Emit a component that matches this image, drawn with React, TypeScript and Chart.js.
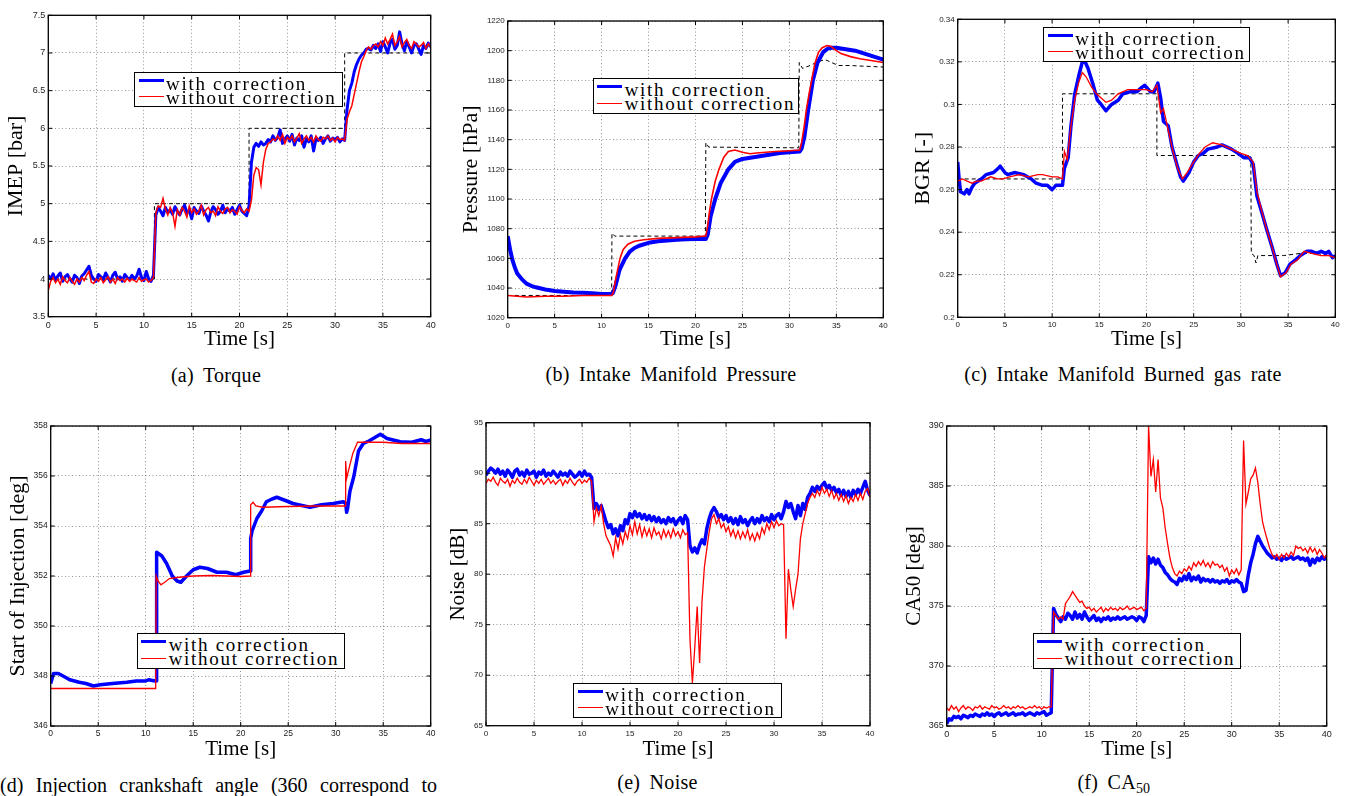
import React, { useEffect, useRef } from "react";
import { Chart, registerables } from "chart.js";

Chart.register(...registerables);

const BLUE = "#0000ff";
const RED = "#ff0000";
const SERIF = '"Liberation Serif", "Times New Roman", Times, serif';
const SANS = '"Liberation Sans", Arial, Helvetica, sans-serif';

// ---------- tick labels ----------
const timeTicks = [0, 5, 10, 15, 20, 25, 30, 35, 40];
const imepTicks = [3.5, 4, 4.5, 5, 5.5, 6, 6.5, 7, 7.5];
const pressureTicks = [1020, 1040, 1060, 1080, 1100, 1120, 1140, 1160, 1180, 1200, 1220];
const bgrTicks = [0.2, 0.22, 0.24, 0.26, 0.28, 0.3, 0.32, 0.34];
const soiTicks = [346, 348, 350, 352, 354, 356, 358];
const noiseTicks = [65, 70, 75, 80, 85, 90, 95];
const ca50Ticks = [365, 370, 375, 380, 385, 390];

// ---------- sampled series (every 0.25 s from 0 to 40 s) ----------
const SAMPLE_STEP = 0.25;

const imepWith = [
  4.05, 4.0, 4.07, 3.98, 4.04, 4.08, 3.97, 4.03, 4.06, 4.0, 3.96, 4.05, 4.02, 3.94, 4.04, 4.07, 4.12, 4.17, 4.05, 4.0,
  3.97, 4.06, 4.03, 3.99, 4.08, 4.02, 3.96, 4.05, 4.09, 4.0, 4.03, 3.97, 4.06, 4.02, 3.99, 4.05, 4.0, 4.04, 4.13, 4.02,
  3.98, 4.1, 4.0, 3.97, 4.05,
  4.85, 4.95, 4.9, 4.84, 4.95, 4.88, 4.92, 4.86, 4.96, 4.9, 4.85, 4.93, 4.98, 4.88, 4.91, 4.8, 4.95, 4.9, 4.87, 4.97,
  4.9, 4.85, 4.77, 4.89, 4.96, 4.92, 4.86, 4.9, 4.98, 4.88, 4.93, 4.9, 4.95, 4.86, 4.92, 4.98, 4.9, 4.87, 4.84, 4.97,
  5.55, 5.75, 5.8, 5.76, 5.82, 5.78, 5.8, 5.85, 5.82, 5.9, 5.84, 5.88, 5.98, 5.8, 5.86, 5.9, 5.83, 5.92, 5.78, 5.87,
  5.84, 5.9, 5.75, 5.86, 5.82, 5.9, 5.7, 5.86, 5.84, 5.88, 5.8, 5.86, 5.9, 5.83, 5.87, 5.85, 5.88, 5.82, 5.86, 5.84,
  6.25, 6.5, 6.6, 6.75, 6.85, 6.92, 6.97, 7.0, 7.05, 7.06, 7.04, 7.1,
  7.06, 7.12, 7.02, 7.15, 7.08, 7.0, 7.13, 7.18, 7.05, 7.1, 7.28, 7.12, 7.03, 7.15, 7.08, 7.0, 7.1, 7.12, 7.05, 6.98,
  7.1, 7.06, 7.13, 7.08,
];
const imepWithout = [
  3.85, 3.97, 4.02, 3.95, 4.0, 3.93, 4.03, 3.98, 3.95, 4.02, 3.97, 3.93, 4.0, 3.96, 4.02, 3.98, 4.05, 4.1, 3.96, 3.94,
  4.0, 3.97, 4.02, 3.95, 3.99, 4.03, 3.96, 4.0, 3.94, 4.02, 3.98, 4.0, 3.96, 4.01, 3.97, 4.0, 3.98, 3.96, 4.02, 3.97,
  3.99, 4.0, 3.96, 3.98, 4.02,
  4.88, 4.97, 4.95, 5.07, 4.93, 4.85, 4.95, 4.88, 4.7, 4.92, 4.85, 4.95, 4.9, 4.82, 4.97, 4.88, 4.93, 4.86, 4.9, 4.98,
  4.85, 4.92, 4.95, 4.88, 4.9, 4.84, 4.96, 4.9, 4.87, 4.93, 4.95, 4.88, 4.92, 4.9, 4.86, 4.96, 4.91, 4.88, 4.93, 4.9,
  5.05, 5.38, 5.48, 5.45, 5.25, 5.55, 5.72, 5.8, 5.82, 5.86, 5.84, 5.9,
  5.84, 5.92, 5.8, 5.88, 5.85, 5.9, 5.82, 5.87, 5.93, 5.8, 5.86, 5.9, 5.84, 5.88, 5.82, 5.9, 5.85, 5.83, 5.88, 5.86,
  5.9, 5.84, 5.87, 5.82, 5.88, 5.85, 5.86, 5.84,
  6.12, 6.22, 6.3, 6.45, 6.6, 6.75, 6.88, 6.95, 7.03, 7.08, 7.05, 7.1,
  7.12, 7.08, 7.15, 7.1, 7.2, 7.12, 7.18, 7.25, 7.1, 7.15, 7.22, 7.08, 7.14, 7.18, 7.1, 7.06, 7.15, 7.12, 7.08, 7.1,
  7.14, 7.06, 7.12, 7.08,
];

const noiseWith = [
  89.8, 90.2, 90.5, 90.3, 90.0, 90.4, 89.9, 90.2, 89.7, 90.3, 90.0, 89.6, 90.2, 90.4, 89.8, 90.1, 89.7, 90.3, 89.9, 90.0,
  90.2, 89.6, 90.1, 89.9, 90.3, 89.7, 90.0, 89.8, 90.2, 89.9, 89.6, 90.1, 89.8, 90.0, 89.7, 90.2, 89.9, 89.6, 89.8, 90.1,
  89.7, 90.2, 89.8, 89.9, 89.6,
  86.5, 87.0, 86.4, 86.8, 86.0, 85.2, 84.6, 84.9, 84.0, 84.5, 83.8, 84.8, 84.3, 85.4, 85.0, 86.0, 85.6, 86.2, 85.7, 86.0,
  85.5, 85.9, 85.4, 85.8, 85.3, 85.7, 85.2, 85.6, 85.1, 85.4, 85.0, 85.6, 85.2, 85.5, 84.9, 85.3, 85.6, 85.0, 85.8, 85.4,
  82.8, 82.2, 82.6, 82.1, 82.9, 83.4, 83.0, 84.5, 85.5, 86.2, 86.6, 86.2, 85.6, 85.9, 85.4, 85.8, 85.2, 85.6, 85.0, 85.5,
  84.9, 85.7, 85.1, 85.4, 84.8, 85.3, 85.6, 85.0, 85.5, 85.1, 85.8, 85.3, 85.6, 85.2, 85.9, 85.4, 85.8, 86.0, 85.5, 86.2,
  87.2, 86.6, 87.0, 86.2, 85.5, 86.8, 85.8, 87.0, 86.4, 87.6, 88.0, 88.6, 88.2, 88.7, 88.4, 88.8, 89.1, 88.5, 88.8, 88.3,
  88.6, 88.1, 88.4, 87.8, 88.3, 87.7, 88.2, 87.6, 88.3, 87.9, 88.4, 88.0, 88.6, 89.2, 88.3, 87.8,
];
const noiseWithout = [
  89.0, 89.4, 89.2, 89.6, 89.1, 88.8, 89.5, 89.2, 89.0, 89.4, 88.7, 89.3, 89.0, 89.5, 89.1, 88.9, 89.4, 89.0, 89.6, 89.2,
  88.8, 89.3, 89.0, 89.4, 88.9, 89.2, 89.5, 89.0, 89.3, 88.9, 89.2, 89.4, 88.8, 89.3, 89.0, 89.5, 89.1, 88.8, 89.2, 89.4,
  89.0, 89.3, 89.1, 89.5, 89.2,
  85.2, 86.6, 85.8, 86.8, 85.0, 83.8, 83.3, 82.8, 81.8, 83.6, 82.5, 83.9, 83.0, 84.2, 83.5, 84.8, 83.9, 85.2, 84.0, 84.9,
  83.7, 84.6, 83.8, 84.5, 83.6, 84.6, 83.9, 84.2, 83.5, 84.4, 83.7, 84.3, 83.6, 84.5, 83.8, 84.2, 83.6, 84.4, 83.9, 84.1,
  73.5, 69.2, 72.8, 76.8, 71.2, 77.3, 80.7, 82.5, 84.2, 85.5, 85.9, 85.0, 85.5, 84.6, 85.0, 84.2, 84.7, 83.8, 84.4, 83.6,
  84.3, 83.5, 84.2, 83.6, 84.4, 83.4, 84.0, 83.3, 84.1, 83.5, 84.6, 84.0, 85.0, 84.4, 85.2, 84.6, 85.3, 84.8, 85.0, 84.9,
  73.6, 80.5, 78.5, 76.8, 78.5, 80.0, 83.5, 85.0, 86.0, 87.0, 87.6, 88.0, 87.6, 88.3, 87.8, 88.6, 88.0, 88.4, 87.7, 88.3,
  87.5, 88.0, 87.3, 87.9, 87.2, 87.8, 87.0, 87.6, 87.2, 87.9, 87.3, 88.0, 87.4, 88.2, 88.5, 87.6,
];

const ca50With = [
  365.2, 365.6, 365.5, 365.8, 365.7, 365.8, 365.6, 365.9, 365.8, 365.7, 365.9, 365.8, 366.0, 365.9, 365.8, 366.0, 365.9, 366.1, 365.9, 366.0,
  365.8, 366.0, 366.1, 365.9, 366.0, 366.1, 365.9, 366.0, 366.1, 365.9, 366.0, 366.0, 366.1, 365.9, 366.0, 366.1, 366.0, 365.9, 366.1, 366.0,
  366.1, 366.2, 365.9, 366.0, 366.1,
  374.8, 374.3, 374.0, 373.7, 374.1, 373.9, 374.4, 374.2, 373.9, 374.5, 374.0, 374.3, 373.9, 374.5, 374.1, 373.8, 374.0, 374.2, 373.8, 374.0,
  373.7, 374.0, 373.9, 374.1, 373.8, 374.0, 373.9, 374.1, 373.9, 374.0, 374.1, 373.9, 374.0, 374.1, 374.0, 373.8, 374.1, 374.0, 373.7, 374.2,
  379.1, 378.6, 379.0, 378.5, 378.9, 378.4, 378.2, 377.8, 377.6, 377.3, 377.1, 377.0, 376.8, 377.3, 377.1, 377.5, 377.2, 377.7, 377.1, 377.4,
  377.2, 377.5, 377.0, 377.3, 377.1, 377.2, 377.0, 377.2, 377.0, 377.1, 376.9, 377.1, 377.0, 377.2, 376.9, 377.1, 377.0, 377.2, 377.0, 376.9,
  376.2, 376.3, 377.6, 378.6, 379.3, 380.2, 380.8, 380.4, 380.0, 379.7, 379.4, 379.2, 379.0, 379.1, 378.9, 379.0, 378.8, 379.1, 378.9, 379.0,
  379.1, 378.9, 379.0, 379.1, 378.9, 379.0, 378.8, 379.0, 378.4, 378.9, 378.6, 379.0, 378.8, 379.1, 378.9, 379.1,
];
const ca50Without = [
  366.5, 366.3, 366.7, 366.4, 366.6, 366.2, 366.5, 366.7, 366.4, 366.6, 366.5, 366.3, 366.6, 366.5, 366.7, 366.4, 366.6, 366.5, 366.4, 366.7,
  366.5, 366.6, 366.4, 366.5, 366.7, 366.5, 366.6, 366.4, 366.6, 366.5, 366.7, 366.5, 366.6, 366.4, 366.5, 366.6, 366.5, 366.7, 366.5, 366.6,
  366.4, 366.6, 366.5, 366.6, 366.6,
  374.5, 374.2, 373.9, 374.1, 373.9, 375.2, 375.5, 375.8, 376.2, 375.9, 375.6, 375.3, 375.4, 375.0, 374.8, 374.9, 374.6, 374.8, 374.5, 374.7,
  374.9, 374.5, 374.8, 374.6, 374.9, 374.7, 374.8, 374.6, 374.9, 374.7, 374.8, 375.0, 374.7, 374.8, 374.9, 374.7, 374.8, 374.9, 374.6, 374.8,
  390.0, 385.8, 387.2, 384.5, 387.2, 384.0, 383.2, 381.5, 380.2, 379.0, 378.2, 377.7, 377.5, 377.9, 377.7, 378.1, 377.9, 378.3, 378.0, 378.6,
  378.3, 378.7, 378.4, 378.8, 378.3, 378.6, 378.2, 378.7, 378.4, 378.5, 378.2, 378.4, 377.9, 378.2, 377.5, 378.0, 377.7, 378.1, 377.6, 378.0,
  388.8, 383.5, 384.5, 385.6, 385.9, 386.5, 385.3, 383.5, 382.0, 381.2, 380.5, 379.8, 379.3, 379.0, 379.3, 378.9, 379.3, 379.0, 379.4, 379.1,
  379.5, 379.2, 380.0, 379.8, 379.9, 379.6, 379.8, 379.4, 379.9, 379.5, 379.8, 379.3, 379.7, 379.4, 379.0, 379.3,
];

// ---------- (time, value) series ----------
const imepRef: [number, number][] = [
  [0, 4], [11.1, 4], [11.1, 5], [21.0, 5], [21.0, 6], [31.0, 6], [31.0, 7], [40, 7],
];

const pressureWith: [number, number][] = [
  [0, 1075], [0.25, 1066], [0.5, 1059], [0.75, 1054], [1, 1050], [1.5, 1046], [2, 1043], [2.5, 1041.5], [3, 1040.5],
  [4, 1039], [5, 1038], [6, 1037.5], [7, 1037], [8, 1036.8], [9, 1036.5], [10, 1036], [11, 1036], [11.2, 1036.5],
  [11.5, 1042], [11.9, 1052], [12.5, 1060], [13, 1064.5], [13.5, 1067], [14, 1068.5], [15, 1070.5], [16, 1071.5],
  [17, 1072], [18, 1072.5], [19, 1072.8], [20, 1073], [21.1, 1073], [21.3, 1076], [21.6, 1088], [22.1, 1100],
  [22.7, 1111], [23.5, 1120], [24.2, 1125], [25, 1127], [26, 1128], [27, 1129], [28, 1130], [29, 1131], [30, 1131.5],
  [31.1, 1132], [31.3, 1134], [31.6, 1142], [32.0, 1160], [32.5, 1180], [33.0, 1192], [33.6, 1199], [34.1, 1201.5],
  [34.5, 1202], [35, 1202], [36, 1201], [37, 1200], [38, 1198], [39, 1196], [40, 1194],
];
const pressureWithout: [number, number][] = [
  [0, 1035], [1, 1034.5], [2, 1034], [4, 1034.5], [6, 1034.5], [8, 1035], [10, 1035], [11.1, 1035], [11.25, 1037],
  [11.5, 1046], [11.96, 1060], [12.3, 1066], [12.8, 1069.5], [13.5, 1071.5], [14.5, 1072.5], [16, 1073.5], [18, 1074],
  [20, 1074.5], [21.1, 1075], [21.3, 1082], [21.5, 1092], [21.7, 1100], [22.1, 1112], [22.5, 1120], [23, 1128],
  [23.5, 1132], [24.2, 1133], [25, 1131.5], [25.8, 1130.5], [26.5, 1131], [27.5, 1131.5], [28.5, 1132], [30, 1132.5],
  [31.1, 1133], [31.3, 1138], [31.6, 1150], [31.8, 1160], [32.1, 1171], [32.4, 1181], [32.7, 1191], [33.1, 1199],
  [33.5, 1202], [34, 1203.5], [34.4, 1203], [35, 1200], [35.5, 1198], [36.5, 1196], [37.5, 1194.5], [38.5, 1193.5],
  [40, 1192],
];
const pressureRef: [number, number][] = [
  [0, 1035], [11.07, 1035], [11.1, 1077], [11.4, 1075], [21.05, 1075], [21.1, 1138], [21.4, 1135], [31.0, 1134.5],
  [31.05, 1192], [31.4, 1188], [32.2, 1190], [33, 1192.5], [33.8, 1194], [34.5, 1192], [35.2, 1190], [36.5, 1190],
  [38, 1189.5], [40, 1189],
];

const bgrWith: [number, number][] = [
  [0, 0.273], [0.15, 0.265], [0.3, 0.259], [0.7, 0.258], [1.0, 0.26], [1.2, 0.258], [1.5, 0.261], [1.8, 0.263],
  [2.5, 0.265], [3.0, 0.267], [3.8, 0.268], [4.3, 0.27], [4.5, 0.271], [5.0, 0.268], [5.3, 0.267], [6.0, 0.268],
  [7.0, 0.267], [7.8, 0.265], [8.3, 0.263], [9.0, 0.262], [9.5, 0.262], [10.0, 0.26], [10.4, 0.262], [11.1, 0.262],
  [11.3, 0.27], [11.7, 0.275], [12.0, 0.29], [12.4, 0.305], [12.8, 0.313], [13.2, 0.32], [13.4, 0.321], [13.8, 0.317],
  [14.3, 0.31], [14.8, 0.302], [15.2, 0.3], [15.7, 0.297], [16.3, 0.3], [17.0, 0.302], [17.5, 0.305], [18.3, 0.306],
  [19.0, 0.306], [19.5, 0.308], [19.8, 0.309], [20.4, 0.306], [20.8, 0.306], [21.2, 0.31], [21.5, 0.303],
  [21.8, 0.292], [22.3, 0.29], [22.7, 0.28], [23.2, 0.272], [23.6, 0.266], [23.9, 0.264], [24.5, 0.268], [25.0, 0.273],
  [25.5, 0.276], [26.0, 0.277], [26.5, 0.279], [27.5, 0.28], [28.0, 0.281], [29.0, 0.279], [29.7, 0.277], [30.3, 0.275],
  [30.9, 0.275], [31.3, 0.272], [31.7, 0.257], [32.2, 0.2495], [32.75, 0.241], [33.3, 0.233], [33.8, 0.225],
  [34.2, 0.2195], [34.7, 0.221], [35.2, 0.225], [35.8, 0.227], [36.3, 0.229], [37.0, 0.231], [37.5, 0.231], [38.0, 0.23],
  [38.5, 0.231], [39.0, 0.23], [39.3, 0.231], [39.7, 0.228], [40.0, 0.229],
];
const bgrWithout: [number, number][] = [
  [0, 0.264], [0.5, 0.265], [1.0, 0.264], [1.5, 0.263], [2.0, 0.264], [2.5, 0.264], [3.0, 0.265], [3.5, 0.266],
  [4.2, 0.265], [4.8, 0.265], [5.5, 0.266], [6.5, 0.267], [7.5, 0.266], [8.5, 0.267], [9.0, 0.267], [10.0, 0.266],
  [10.6, 0.266], [11.1, 0.265], [11.3, 0.278], [11.6, 0.274], [12.0, 0.29], [12.4, 0.302], [12.8, 0.31], [13.2, 0.315],
  [13.6, 0.313], [14.2, 0.308], [14.7, 0.305], [15.2, 0.303], [15.7, 0.301], [16.3, 0.302], [17.0, 0.305], [18.0, 0.307],
  [19.0, 0.307], [20.0, 0.307], [20.6, 0.306], [21.1, 0.309], [21.5, 0.296], [21.8, 0.298], [22.3, 0.288], [22.8, 0.278],
  [23.3, 0.27], [23.8, 0.265], [24.3, 0.268], [25.0, 0.273], [25.6, 0.277], [26.2, 0.28], [27.0, 0.282], [28.0, 0.281],
  [29.0, 0.279], [30.0, 0.277], [30.7, 0.276], [31.3, 0.273], [31.7, 0.259], [32.2, 0.25], [32.75, 0.241], [33.3, 0.233],
  [33.8, 0.225], [34.2, 0.219], [34.8, 0.221], [35.3, 0.225], [36.0, 0.227], [36.7, 0.231], [37.5, 0.23], [38.5, 0.229],
  [39.3, 0.229], [40.0, 0.228],
];
const bgrRef: [number, number][] = [
  [0, 0.265], [11.1, 0.265], [11.1, 0.305], [21.1, 0.305], [21.1, 0.276], [31.05, 0.276], [31.1, 0.23], [31.4, 0.229],
  [31.6, 0.2255], [31.8, 0.229], [34.5, 0.229], [36.3, 0.23], [38, 0.23], [40, 0.2285],
];

const soiWith: [number, number][] = [
  [0, 347.7], [0.3, 348.1], [0.8, 348.1], [1.3, 348.0], [2.0, 347.85], [3.0, 347.75], [3.7, 347.7], [4.5, 347.6],
  [5.2, 347.65], [6.5, 347.7], [8.0, 347.75], [9.0, 347.8], [10.0, 347.8], [10.3, 347.85], [11.0, 347.8], [11.1, 347.8],
  [11.15, 352.95], [11.7, 352.8], [12.2, 352.5], [12.8, 352.0], [13.3, 351.8], [13.7, 351.75], [14.3, 352.0],
  [15.0, 352.25], [15.7, 352.35], [16.5, 352.3], [17.5, 352.15], [18.5, 352.15], [19.5, 352.05], [20.3, 352.15],
  [21.0, 352.2], [21.05, 353.5], [21.2, 353.8], [21.7, 354.3], [22.2, 354.6], [22.7, 354.97], [23.3, 355.08],
  [23.8, 355.15], [24.5, 355.05], [25.5, 354.9], [26.2, 354.84], [27.3, 354.75], [28.5, 354.85], [29.75, 354.9],
  [30.8, 354.97], [31.05, 354.9], [31.15, 354.55], [31.25, 354.7], [31.5, 355.4], [31.9, 355.97], [32.4, 357.0],
  [32.9, 357.3], [33.5, 357.4], [34.7, 357.67], [35.4, 357.5], [36.8, 357.37], [38, 357.35], [39, 357.45],
  [39.5, 357.38], [40, 357.44],
];
const soiWithout: [number, number][] = [
  [0, 347.5], [11.05, 347.5], [11.1, 352.0], [11.3, 351.8], [11.6, 351.65], [12.0, 351.75], [12.5, 351.9],
  [13.5, 351.95], [15, 352.0], [17, 352.02], [20, 351.98], [21.0, 352.0], [21.05, 354.85], [21.3, 354.95],
  [21.6, 354.8], [22.3, 354.75], [25, 354.78], [28, 354.8], [31.0, 354.8], [31.05, 356.6], [31.15, 355.9],
  [31.4, 356.3], [31.8, 356.9], [32.3, 357.35], [35, 357.35], [37, 357.3], [40, 357.3],
];

// ---------- helpers ----------
type Pt = { x: number; y: number };
const sampled = (vals: number[]): Pt[] => vals.map((v, i) => ({ x: i * SAMPLE_STEP, y: v }));
const paired = (p: [number, number][]): Pt[] => p.map(([x, y]) => ({ x, y }));

const fmt = (v: number) => String(Math.round(Number(v) * 1000) / 1000);

const withLine = (data: Pt[], width: number) => ({
  label: "with correction",
  data,
  borderColor: BLUE,
  backgroundColor: BLUE,
  borderWidth: width,
  borderJoinStyle: "round",
  order: 1,
});
const withoutLine = (data: Pt[], width: number) => ({
  label: "without correction",
  data,
  borderColor: RED,
  backgroundColor: RED,
  borderWidth: width,
  order: 0,
});
const refLine = (data: Pt[]) => ({
  label: "reference",
  data,
  borderColor: "#000",
  borderWidth: 1,
  borderDash: [4, 3],
  order: 2,
});

const framePlugin = {
  id: "frame",
  afterDatasetsDraw(chart: any) {
    const { ctx, chartArea: a, scales } = chart;
    ctx.save();
    ctx.strokeStyle = "#000";
    ctx.lineWidth = 1;
    ctx.beginPath();
    const tl = 4;
    for (const t of scales.x.ticks) {
      const x = scales.x.getPixelForValue(t.value);
      ctx.moveTo(x, a.bottom);
      ctx.lineTo(x, a.bottom - tl);
      ctx.moveTo(x, a.top);
      ctx.lineTo(x, a.top + tl);
    }
    for (const t of scales.y.ticks) {
      const y = scales.y.getPixelForValue(t.value);
      ctx.moveTo(a.left, y);
      ctx.lineTo(a.left + tl, y);
      ctx.moveTo(a.right, y);
      ctx.lineTo(a.right - tl, y);
    }
    ctx.stroke();
    ctx.lineWidth = 1.3;
    ctx.strokeRect(a.left, a.top, a.right - a.left, a.bottom - a.top);
    ctx.restore();
  },
};

type PanelProps = {
  plot: { l: number; t: number; r: number; b: number };
  yMin: number;
  yMax: number;
  yTicks: number[];
  yTitle: string;
  yTitleCx: number;
  yTitleSize: number;
  xTitleCy: number;
  xTitleSize: number;
  tickSize: number;
  datasets: any[];
};

function Panel(p: PanelProps) {
  const ref = useRef<HTMLCanvasElement | null>(null);
  const padTop = 10;
  const padRight = 12;
  const left = Math.floor(p.yTitleCx - p.yTitleSize / 2);
  const top = Math.floor(p.plot.t - padTop);
  const right = Math.ceil(p.plot.r + padRight);
  const bottom = Math.ceil(p.xTitleCy + p.xTitleSize / 2);
  const width = right - left;
  const height = bottom - top;
  const wy = p.plot.l - left;
  const hx = bottom - p.plot.b;
  const pt = p.plot.t - top;
  const pr = right - p.plot.r;
  const yTitlePad = p.yTitleCx - p.yTitleSize / 2 - left;
  const xTitlePad = bottom - (p.xTitleCy + p.xTitleSize / 2);

  useEffect(() => {
    if (!ref.current) return;
    const grid = { color: "rgba(0,0,0,0.42)", lineWidth: 1, drawTicks: false };
    const border = { display: false, dash: [1, 2.5] };
    const chart = new Chart(ref.current, {
      type: "line",
      data: { datasets: p.datasets },
      options: {
        animation: false,
        responsive: false,
        maintainAspectRatio: false,
        layout: { padding: { left: 0, top: pt, right: pr, bottom: 0 } },
        plugins: { legend: { display: false }, tooltip: { enabled: false } },
        elements: { point: { radius: 0 }, line: { tension: 0 } },
        scales: {
          x: {
            type: "linear",
            min: 0,
            max: 40,
            afterBuildTicks: (s: any) => {
              s.ticks = timeTicks.map((v) => ({ value: v }));
            },
            afterFit: (s: any) => {
              s.height = hx;
              s.paddingLeft = 0;
              s.paddingRight = 0;
            },
            ticks: {
              autoSkip: false,
              maxRotation: 0,
              padding: 3,
              color: "#222",
              font: { family: SANS, size: p.tickSize },
              callback: (v: any) => fmt(v),
            },
            grid,
            border,
            title: {
              display: true,
              text: "Time [s]",
              color: "#000",
              font: { family: SERIF, size: p.xTitleSize, lineHeight: 1 },
              padding: { top: 0, bottom: xTitlePad },
            },
          },
          y: {
            type: "linear",
            min: p.yMin,
            max: p.yMax,
            afterBuildTicks: (s: any) => {
              s.ticks = p.yTicks.map((v) => ({ value: v }));
            },
            afterFit: (s: any) => {
              s.width = wy;
              s.paddingTop = 0;
              s.paddingBottom = 0;
            },
            ticks: {
              autoSkip: false,
              padding: 3,
              color: "#222",
              font: { family: SANS, size: p.tickSize },
              callback: (v: any) => fmt(v),
            },
            grid,
            border,
            title: {
              display: true,
              text: p.yTitle,
              color: "#000",
              font: { family: SERIF, size: p.yTitleSize, lineHeight: 1 },
              padding: { top: yTitlePad, bottom: 0 },
            },
          },
        },
      } as any,
      plugins: [framePlugin],
    });
    return () => chart.destroy();
  }, []);

  return (
    <canvas
      ref={ref}
      width={width}
      height={height}
      style={{ position: "absolute", left, top, width, height }}
    />
  );
}

function Legend({ left, top, width = 208 }: { left: number; top: number; width?: number }) {
  const b = 1.5;
  const fs = 19;
  const baseOff = 0.8375 * fs;
  const textStyle: React.CSSProperties = {
    position: "absolute",
    left: 32.5 - b,
    fontFamily: SERIF,
    fontSize: `${fs}px`,
    lineHeight: `${fs}px`,
    letterSpacing: "1.7px",
    whiteSpace: "nowrap",
    color: "#000",
  };
  return (
    <div
      style={{
        position: "absolute",
        left,
        top,
        width,
        height: 35.5,
        boxSizing: "border-box",
        border: `${b}px solid #000`,
        background: "#fff",
      }}
    >
      <div style={{ position: "absolute", left: 5 - b, top: 9 - b - 1.5, width: 25, height: 3, background: BLUE }} />
      <div style={{ position: "absolute", left: 5 - b, top: 25.5 - b - 0.75, width: 25, height: 1.5, background: RED }} />
      <div style={{ ...textStyle, top: 18.3 - b - baseOff }}>with correction</div>
      <div style={{ ...textStyle, top: 32.6 - b - baseOff }}>without correction</div>
    </div>
  );
}

function Caption({ cx, baseline, children }: { cx: number; baseline: number; children: React.ReactNode }) {
  const w = 500;
  return (
    <div
      style={{
        position: "absolute",
        left: cx - w / 2,
        width: w,
        top: baseline - 16.75,
        textAlign: "center",
        fontFamily: SERIF,
        fontSize: "20px",
        lineHeight: "20px",
        wordSpacing: "4px",
        letterSpacing: "0.3px",
        whiteSpace: "nowrap",
        color: "#000",
      }}
    >
      {children}
    </div>
  );
}

export default function App() {
  const panels: PanelProps[] = [
    {
      plot: { l: 48.3, t: 15.3, r: 430.7, b: 316.7 },
      yMin: 3.5, yMax: 7.5, yTicks: imepTicks, yTitle: "IMEP [bar]",
      yTitleCx: 16.5, yTitleSize: 22, xTitleCy: 339.6, xTitleSize: 21, tickSize: 9,
      datasets: [withoutLine(sampled(imepWithout), 1.5), withLine(sampled(imepWith), 3), refLine(paired(imepRef))],
    },
    {
      plot: { l: 507.7, t: 21, r: 883.3, b: 317.7 },
      yMin: 1020, yMax: 1220, yTicks: pressureTicks, yTitle: "Pressure [hPa]",
      yTitleCx: 470.8, yTitleSize: 22, xTitleCy: 339.6, xTitleSize: 21, tickSize: 8,
      datasets: [withoutLine(paired(pressureWithout), 1.6), withLine(paired(pressureWith), 4), refLine(paired(pressureRef))],
    },
    {
      plot: { l: 957.7, t: 19.3, r: 1335.3, b: 317.3 },
      yMin: 0.2, yMax: 0.34, yTicks: bgrTicks, yTitle: "BGR [-]",
      yTitleCx: 923.2, yTitleSize: 22, xTitleCy: 339.6, xTitleSize: 21, tickSize: 8,
      datasets: [withoutLine(paired(bgrWithout), 1.3), withLine(paired(bgrWith), 3.5), refLine(paired(bgrRef))],
    },
    {
      plot: { l: 50.7, t: 426, r: 430.7, b: 726 },
      yMin: 346, yMax: 358, yTicks: soiTicks, yTitle: "Start of Injection [deg]",
      yTitleCx: 18.5, yTitleSize: 22, xTitleCy: 749.4, xTitleSize: 21, tickSize: 8.5,
      datasets: [withoutLine(paired(soiWithout), 1.3), withLine(paired(soiWith), 3.5)],
    },
    {
      plot: { l: 486, t: 422.7, r: 870, b: 725.7 },
      yMin: 65, yMax: 95, yTicks: noiseTicks, yTitle: "Noise [dB]",
      yTitleCx: 458, yTitleSize: 21, xTitleCy: 749, xTitleSize: 21, tickSize: 8,
      datasets: [withoutLine(sampled(noiseWithout), 1.3), withLine(sampled(noiseWith), 3.5)],
    },
    {
      plot: { l: 946.7, t: 426, r: 1326.7, b: 726 },
      yMin: 365, yMax: 390, yTicks: ca50Ticks, yTitle: "CA50 [deg]",
      yTitleCx: 914, yTitleSize: 21, xTitleCy: 749, xTitleSize: 21, tickSize: 9,
      datasets: [withoutLine(sampled(ca50Without), 1.3), withLine(sampled(ca50With), 3.5)],
    },
  ];

  return (
    <div
      style={{
        position: "absolute",
        left: 0,
        top: 0,
        width: 1348,
        height: 796,
        overflow: "hidden",
        background: "#fff",
      }}
    >
      {panels.map((p, i) => (
        <Panel key={i} {...p} />
      ))}
      <Legend left={134} top={71.7} width={209} />
      <Legend left={592.7} top={78.3} width={206} />
      <Legend left={1043.3} top={26.7} width={207} />
      <Legend left={136.7} top={633.3} width={208} />
      <Legend left={573.3} top={682.7} width={209} />
      <Legend left={1032.7} top={633.3} width={208} />

      <Caption cx={216} baseline={382}>(a) Torque</Caption>
      <Caption cx={671} baseline={381}>(b) Intake Manifold Pressure</Caption>
      <Caption cx={1123} baseline={381}>(c) Intake Manifold Burned gas rate</Caption>
      <div
        style={{
          position: "absolute",
          left: 0,
          width: 437,
          top: 792 - 16.75,
          fontFamily: SERIF,
          fontSize: "20px",
          lineHeight: "20px",
          textAlign: "justify",
          textAlignLast: "justify",
          whiteSpace: "normal",
          color: "#000",
        }}
      >
        (d) Injection crankshaft angle (360 correspond to
      </div>
      <Caption cx={657.5} baseline={789}>(e) Noise</Caption>
      <Caption cx={1113.7} baseline={789}>
        (f) CA
        <sub style={{ fontSize: "14px", verticalAlign: "-4px", lineHeight: 0, letterSpacing: 0 }}>50</sub>
      </Caption>
    </div>
  );
}
